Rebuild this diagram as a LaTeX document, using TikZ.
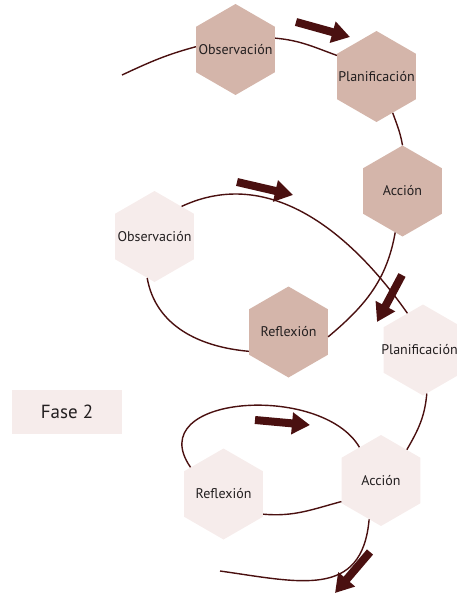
\documentclass[tikz,border=0pt]{standalone}
\usepackage{fontspec}
\setmainfont{PT Sans}
\usetikzlibrary{shapes.geometric,arrows.meta}
\definecolor{cafe}{HTML}{4A1010}
\definecolor{rosaoscuro}{HTML}{D4B5AA}
\definecolor{rosaclaro}{HTML}{F6ECEB}
\definecolor{tinta}{HTML}{231F20}
\newcommand{\rotulo}[1]{\makebox[0pt]{#1}}

\begin{document}
\begin{tikzpicture}[x=1pt,y=1pt,
        hexagono/.style={regular polygon,regular polygon sides=6,shape border rotate=30,
            minimum size=91pt,inner sep=0pt,text=tinta,font=\fontsize{14}{16}\selectfont},
        hexoscuro/.style={hexagono,fill=rosaoscuro},
        hexclaro/.style={hexagono,fill=rosaclaro},
        enlace/.style={draw=cafe,line width=1.4pt},
        flecha/.style={cafe,line width=8pt,-{Triangle[length=18pt,width=21pt]}}]
        \useasboundingbox (0,0) rectangle (457,-594);

        \node[hexoscuro] (obsA) at (235.5,-49.5) {\rotulo{Observación}};
        \node[hexoscuro] (planA) at (376.5,-76.5) {\rotulo{Planificación}};
        \node[hexoscuro] (accA) at (402.5,-191) {\rotulo{Acción}};
        \node[hexclaro] (obsB) at (154.5,-236.5) {\rotulo{Observación}};
        \node[hexoscuro] (reflA) at (288.5,-332) {\rotulo{Reflexión}};
        \node[hexclaro] (planB) at (423,-350) {\rotulo{Planificación\hspace{7pt}}};
        \node[hexclaro] (accB) at (381,-480.5) {\rotulo{Acción}};
        \node[hexclaro] (reflB) at (223.5,-494) {\rotulo{Reflexión}};
        \node[fill=rosaclaro,minimum width=110pt,minimum height=44pt,text=tinta,
            font=\fontsize{19}{23}\selectfont] (fase) at (67,-412) {Fase 2};

        \coordinate (inicio) at (122,-75);
        \coordinate (final) at (220,-571);

        \draw[enlace] (inicio) to[out=25,in=195] (obsA.176);
        \draw[enlace] (obsA.16) to[out=-5,in=160] (planA.152);
        \draw[enlace] (planA.-66) to[out=-70,in=100] (accA.90);
        \draw[enlace] (accA.-100) to[out=-100,in=40] (reflA.-7);
        \draw[enlace] (reflA.206) to[out=175,in=-80] (obsB.-100);
        \draw[enlace] (obsB.48) to[out=25,in=125] (planB.113);
        \draw[enlace] (planB.-85) to[out=-95,in=60] (accB.50);
        \draw[enlace] (accB.123) .. controls +(-38,65) and +(-50,72) .. (reflB.141);
        \draw[enlace] (reflB.-27) to[out=-5,in=195] (accB.208);
        \draw[enlace] (accB.-107) to[out=-95,in=-8,looseness=1.3] (final);

        \draw[flecha] (296,-22) -- (350,-37);
        \draw[flecha] (237,-182) -- (293,-195);
        \draw[flecha] (402,-275) -- (377,-322);
        \draw[flecha] (255,-420) -- (310,-425);
        \draw[flecha] (370,-552) -- (335,-593);
    \end{tikzpicture}
\end{document}
